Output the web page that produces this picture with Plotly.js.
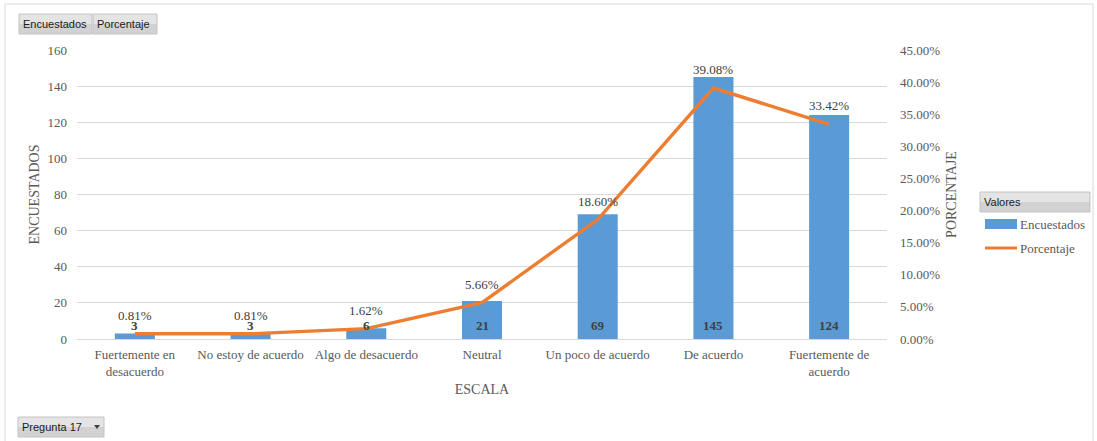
<!DOCTYPE html>
<html>
<head>
<meta charset="utf-8">
<script src="https://cdn.plot.ly/plotly-3.0.1.min.js"></script>
<style>html,body{margin:0;padding:0;background:#fff;}#chart{width:1097px;height:441px;}</style>
</head>
<body>
<div id="chart"></div>
<script>
const categories = ["Fuertemente en<br>desacuerdo", "No estoy de acuerdo", "Algo de desacuerdo", "Neutral", "Un poco de acuerdo", "De acuerdo", "Fuertemente de<br>acuerdo"];
const encuestados = [3, 3, 6, 21, 69, 145, 124];
const porcentaje = [0.0081, 0.0081, 0.0162, 0.0566, 0.1860, 0.3908, 0.3342];
const leftTicks = [0, 20, 40, 60, 80, 100, 120, 140, 160];
const rightTicks = [0, 0.05, 0.10, 0.15, 0.20, 0.25, 0.30, 0.35, 0.40, 0.45];

const W = 1097, H = 441;
const M = {l: 77, r: 210, t: 50, b: 102};
const PW = W - M.l - M.r, PH = H - M.t - M.b;
const px = x => (x - M.l) / PW;
const py = y => (H - M.b - y) / PH;

const serif = "Liberation Serif, Times New Roman, serif";
const sans = "Liberation Sans, Arial, sans-serif";
const grey = "#595959";

const traces = [
  {
    type: "bar", name: "Encuestados", x: categories, y: encuestados,
    marker: {color: "#5B9BD5"}, yaxis: "y", hoverinfo: "x+y"
  },
  {
    type: "scatter", mode: "lines", name: "Porcentaje", x: categories, y: porcentaje,
    line: {color: "#ED7D31", width: 3.4}, yaxis: "y2"
  }
];

const annotations = [];
categories.forEach((c, i) => {
  annotations.push({x: c, y: 0, xref: "x", yref: "y", text: "<b>" + encuestados[i] + "</b>",
    showarrow: false, yanchor: "bottom", yshift: 4, font: {family: serif, size: 13, color: "#404040"}});
  annotations.push({x: c, y: porcentaje[i], xref: "x", yref: "y2", text: (porcentaje[i] * 100).toFixed(2) + "%",
    showarrow: false, yanchor: "bottom", yshift: 9, font: {family: serif, size: 13, color: "#404040"}});
});

const shapes = [
  {type: "rect", xref: "paper", yref: "paper", x0: px(5), x1: px(1093), y0: py(460), y1: py(4),
   line: {color: "#d9d9d9", width: 1}, fillcolor: "rgba(0,0,0,0)", layer: "below"}
];

function btn(x0, y0, x1, y1, label) {
  const mid = (y0 + y1) / 2;
  shapes.push({type: "rect", xref: "paper", yref: "paper", x0: px(x0), x1: px(x1), y0: py(mid), y1: py(y0),
    fillcolor: "#e4e4e4", line: {width: 0}, layer: "above"});
  shapes.push({type: "rect", xref: "paper", yref: "paper", x0: px(x0), x1: px(x1), y0: py(y1), y1: py(mid),
    fillcolor: "#d2d2d2", line: {width: 0}, layer: "above"});
  shapes.push({type: "rect", xref: "paper", yref: "paper", x0: px(x0), x1: px(x1), y0: py(y1), y1: py(y0),
    fillcolor: "rgba(0,0,0,0)", line: {color: "#c4c4c4", width: 1}, layer: "above"});
  annotations.push({xref: "paper", yref: "paper", x: px(x0 + 2), y: py(mid), xanchor: "left", yanchor: "middle",
    text: label, showarrow: false, font: {family: sans, size: 11, color: "#1a1a1a"}});
}

btn(19, 14, 92, 34, "Encuestados");
btn(93, 14, 157, 34, "Porcentaje");
btn(980, 192, 1090, 212, "Valores");
btn(18, 417, 104, 437, "Pregunta 17");
shapes.push({type: "path", xref: "paper", yref: "paper",
  path: "M " + px(94) + "," + py(425) + " L " + px(100) + "," + py(425) + " L " + px(97) + "," + py(429) + " Z",
  fillcolor: "#404040", line: {width: 0}, layer: "above"});

// manual legend
shapes.push({type: "rect", xref: "paper", yref: "paper", x0: px(985), x1: px(1017), y0: py(229), y1: py(219),
  fillcolor: "#5B9BD5", line: {width: 0}});
shapes.push({type: "line", xref: "paper", yref: "paper", x0: px(985), x1: px(1017), y0: py(248), y1: py(248),
  line: {color: "#ED7D31", width: 3}});
annotations.push({xref: "paper", yref: "paper", x: px(1018), y: py(224), xanchor: "left", yanchor: "middle",
  text: "Encuestados", showarrow: false, font: {family: serif, size: 13, color: grey}});
annotations.push({xref: "paper", yref: "paper", x: px(1018), y: py(248), xanchor: "left", yanchor: "middle",
  text: "Porcentaje", showarrow: false, font: {family: serif, size: 13, color: grey}});

const layout = {
  width: W, height: H, margin: M, paper_bgcolor: "#fff", plot_bgcolor: "#fff",
  showlegend: false, bargap: 0.654,
  font: {family: serif, size: 13, color: grey},
  xaxis: {
    type: "category", tickfont: {family: serif, size: 13, color: grey}, showgrid: false,
    showline: false, ticks: "", ticklabelstandoff: 6,
    title: {text: "ESCALA", font: {family: serif, size: 14, color: grey}, standoff: 6}
  },
  yaxis: {
    range: [0, 160], tickvals: leftTicks, showgrid: true, gridcolor: "#d9d9d9", gridwidth: 1,
    zeroline: true, zerolinecolor: "#d9d9d9", showline: false, ticks: "", ticklabelstandoff: 9,
    tickfont: {family: serif, size: 13, color: grey},
    title: {text: "ENCUESTADOS", font: {family: serif, size: 14, color: grey}, standoff: 4}
  },
  yaxis2: {
    overlaying: "y", side: "right", range: [0, 0.45], tickvals: rightTicks, tickformat: ".2%",
    showgrid: false, zeroline: false, showline: false, ticks: "", ticklabelstandoff: 12,
    tickfont: {family: serif, size: 13, color: grey},
    title: {text: "PORCENTAJE", font: {family: serif, size: 14, color: grey}, standoff: 6}
  },
  shapes: shapes,
  annotations: annotations
};

Plotly.newPlot("chart", traces, layout, {displayModeBar: false, staticPlot: true});
</script>
</body>
</html>
